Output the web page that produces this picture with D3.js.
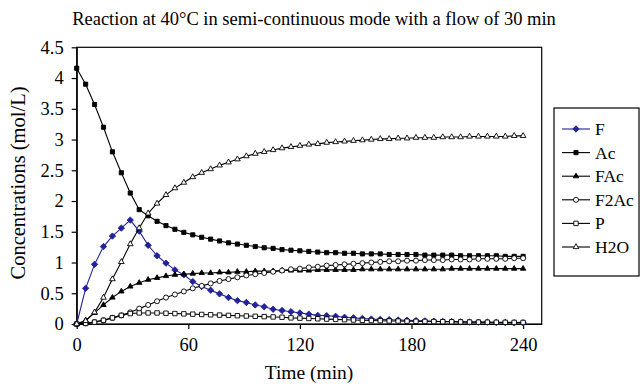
<!DOCTYPE html>
<html><head><meta charset="utf-8">
<script src="https://cdn.jsdelivr.net/npm/d3@7"></script>
<style>body{margin:0;background:#fff}svg{display:block}text{font-family:"Liberation Serif","Times New Roman",serif;fill:#000}</style>
</head><body>
<svg id="c" width="642" height="385"></svg>
<script>
const title = "Reaction at 40°C in semi-continuous mode with a flow of 30 min";
const xLabel = "Time (min)";
const yLabel = "Concentrations (mol/L)";
const xTicks = [0, 60, 120, 180, 240];
const yTicks = [0, 0.5, 1, 1.5, 2, 2.5, 3, 3.5, 4, 4.5];
const seriesNames = ["F", "Ac", "FAc", "F2Ac", "P", "H2O"];
// sampling times (min)
const time = [0,4.8,9.6,14.4,19.2,24,28.8,33.6,38.4,43.2,48,52.8,57.6,62.4,67.2,72,76.8,81.6,86.4,91.2,96,100.8,105.6,110.4,115.2,120,124.8,129.6,134.4,139.2,144,148.8,153.6,158.4,163.2,168,172.8,177.6,182.4,187.2,192,196.8,201.6,206.4,211.2,216,220.8,225.6,230.4,235.2,240];
const F = [0,0.58,0.97,1.26,1.43,1.56,1.69,1.51,1.28,1.11,0.99,0.88,0.80,0.69,0.61,0.55,0.49,0.43,0.38,0.35,0.31,0.28,0.24,0.22,0.20,0.18,0.16,0.14,0.135,0.125,0.11,0.10,0.09,0.08,0.075,0.07,0.065,0.06,0.055,0.05,0.045,0.04,0.04,0.035,0.03,0.03,0.03,0.025,0.025,0.02,0.02];
const Ac = [4.16,3.90,3.57,3.20,2.80,2.46,2.13,1.86,1.76,1.67,1.60,1.54,1.49,1.45,1.41,1.38,1.35,1.32,1.30,1.28,1.26,1.24,1.23,1.21,1.20,1.19,1.18,1.17,1.16,1.16,1.15,1.15,1.14,1.14,1.14,1.13,1.13,1.13,1.13,1.12,1.12,1.12,1.12,1.11,1.11,1.11,1.11,1.11,1.10,1.10,1.10];
const FAc = [0,0.06,0.18,0.31,0.43,0.53,0.61,0.67,0.72,0.75,0.78,0.80,0.81,0.82,0.83,0.83,0.84,0.84,0.85,0.85,0.86,0.86,0.86,0.87,0.87,0.87,0.87,0.88,0.88,0.88,0.88,0.88,0.89,0.89,0.89,0.89,0.89,0.89,0.89,0.89,0.89,0.89,0.90,0.90,0.90,0.90,0.90,0.90,0.90,0.90,0.90];
const F2Ac = [0,0.01,0.03,0.06,0.10,0.14,0.19,0.25,0.31,0.37,0.43,0.48,0.53,0.58,0.62,0.66,0.70,0.73,0.76,0.79,0.81,0.83,0.85,0.87,0.89,0.90,0.92,0.93,0.95,0.96,0.97,0.98,0.99,1.00,1.01,1.02,1.02,1.03,1.03,1.04,1.04,1.04,1.05,1.05,1.05,1.06,1.06,1.06,1.06,1.07,1.07];
const P = [0,0.01,0.03,0.06,0.10,0.14,0.17,0.18,0.18,0.18,0.175,0.17,0.165,0.16,0.155,0.15,0.145,0.14,0.135,0.13,0.125,0.12,0.115,0.11,0.10,0.095,0.09,0.085,0.08,0.075,0.07,0.065,0.06,0.057,0.054,0.05,0.048,0.046,0.044,0.042,0.04,0.038,0.036,0.034,0.032,0.03,0.029,0.028,0.027,0.026,0.025];
const H2O = [0,0.05,0.19,0.43,0.73,1.01,1.30,1.56,1.80,1.96,2.10,2.21,2.30,2.39,2.46,2.52,2.58,2.63,2.68,2.73,2.77,2.80,2.83,2.86,2.88,2.90,2.92,2.93,2.95,2.96,2.97,2.98,2.99,3.00,3.01,3.01,3.02,3.02,3.03,3.03,3.03,3.04,3.04,3.04,3.05,3.05,3.05,3.05,3.05,3.06,3.06];

const seriesValues = [F, Ac, FAc, F2Ac, P, H2O];
const seriesColor = ["#22229a", "#000", "#000", "#000", "#000", "#000"];
const seriesSymbol = [d3.symbolDiamond2, d3.symbolSquare2, d3.symbolTriangle2, d3.symbolCircle, d3.symbolSquare2, d3.symbolTriangle2];
const seriesFill = ["#22229a", "#000", "#000", "#fff", "#fff", "#fff"];
const seriesSize = [26, 22, 21, 20, 25, 23];

const svg = d3.select("#c");
const x = d3.scaleLinear().domain([0, 250]).range([76.7, 541.7]);
const y = d3.scaleLinear().domain([0, 4.5]).range([324, 47.3]);

svg.append("rect").attr("x", x(0)).attr("y", y(4.5)).attr("width", x(250)-x(0)).attr("height", y(0)-y(4.5))
  .attr("fill", "none").attr("stroke", "#000").attr("stroke-width", 1.2);

const xAxis = svg.append("g").attr("transform", `translate(0,${y(0)})`)
  .call(d3.axisBottom(x).tickValues(xTicks).tickSize(5).tickSizeOuter(0).tickPadding(9));
const yAxis = svg.append("g").attr("transform", `translate(${x(0)},0)`)
  .call(d3.axisLeft(y).tickValues(yTicks).tickSize(5).tickSizeOuter(0).tickPadding(8).tickFormat(d3.format("")));
[xAxis, yAxis].forEach(g => {
  g.selectAll("path.domain").attr("stroke", "#000").attr("stroke-width", 1.2);
  g.selectAll(".tick line").attr("stroke", "#000").attr("stroke-width", 1.2);
  g.selectAll(".tick text").attr("font-size", 18.5).attr("font-family", "Liberation Serif").attr("fill", "#000");
});

const line = d3.line().x((d, i) => x(time[i])).y(d => y(d));
seriesValues.forEach((vals, s) => {
  const g = svg.append("g");
  g.append("path").attr("d", line(vals)).attr("fill", "none")
    .attr("stroke", seriesColor[s]).attr("stroke-width", 1.1);
  const sym = d3.symbol().type(seriesSymbol[s]).size(seriesSize[s]);
  g.selectAll("path.m").data(vals).join("path").attr("class", "m")
    .attr("d", sym).attr("transform", (d, i) => `translate(${x(time[i])},${y(d)})`)
    .attr("fill", seriesFill[s]).attr("stroke", seriesColor[s]).attr("stroke-width", 0.9);
});

svg.append("text").attr("x", 314).attr("y", 25).attr("text-anchor", "middle").attr("font-size", 18.5).text(title);
svg.append("text").attr("x", 309).attr("y", 379).attr("text-anchor", "middle").attr("font-size", 19.5).text(xLabel);
svg.append("text").attr("transform", `translate(25,183) rotate(-90)`).attr("text-anchor", "middle").attr("font-size", 20.5).text(yLabel);

// legend
const lg = svg.append("g");
lg.append("rect").attr("x", 554).attr("y", 108).attr("width", 85).attr("height", 168)
  .attr("fill", "#fff").attr("stroke", "#000").attr("stroke-width", 1.2);
seriesNames.forEach((n, s) => {
  const yy = 129 + s * 23.6;
  lg.append("line").attr("x1", 562).attr("x2", 590).attr("y1", yy).attr("y2", yy).attr("stroke", seriesColor[s]).attr("stroke-width", 1.1);
  lg.append("path").attr("d", d3.symbol().type(seriesSymbol[s]).size(seriesSize[s])())
    .attr("transform", `translate(576,${yy})`).attr("fill", seriesFill[s]).attr("stroke", seriesColor[s]).attr("stroke-width", 0.9);
  lg.append("text").attr("x", 595).attr("y", yy + 6).attr("font-size", 17.5).text(n);
});
</script>
</body></html>
